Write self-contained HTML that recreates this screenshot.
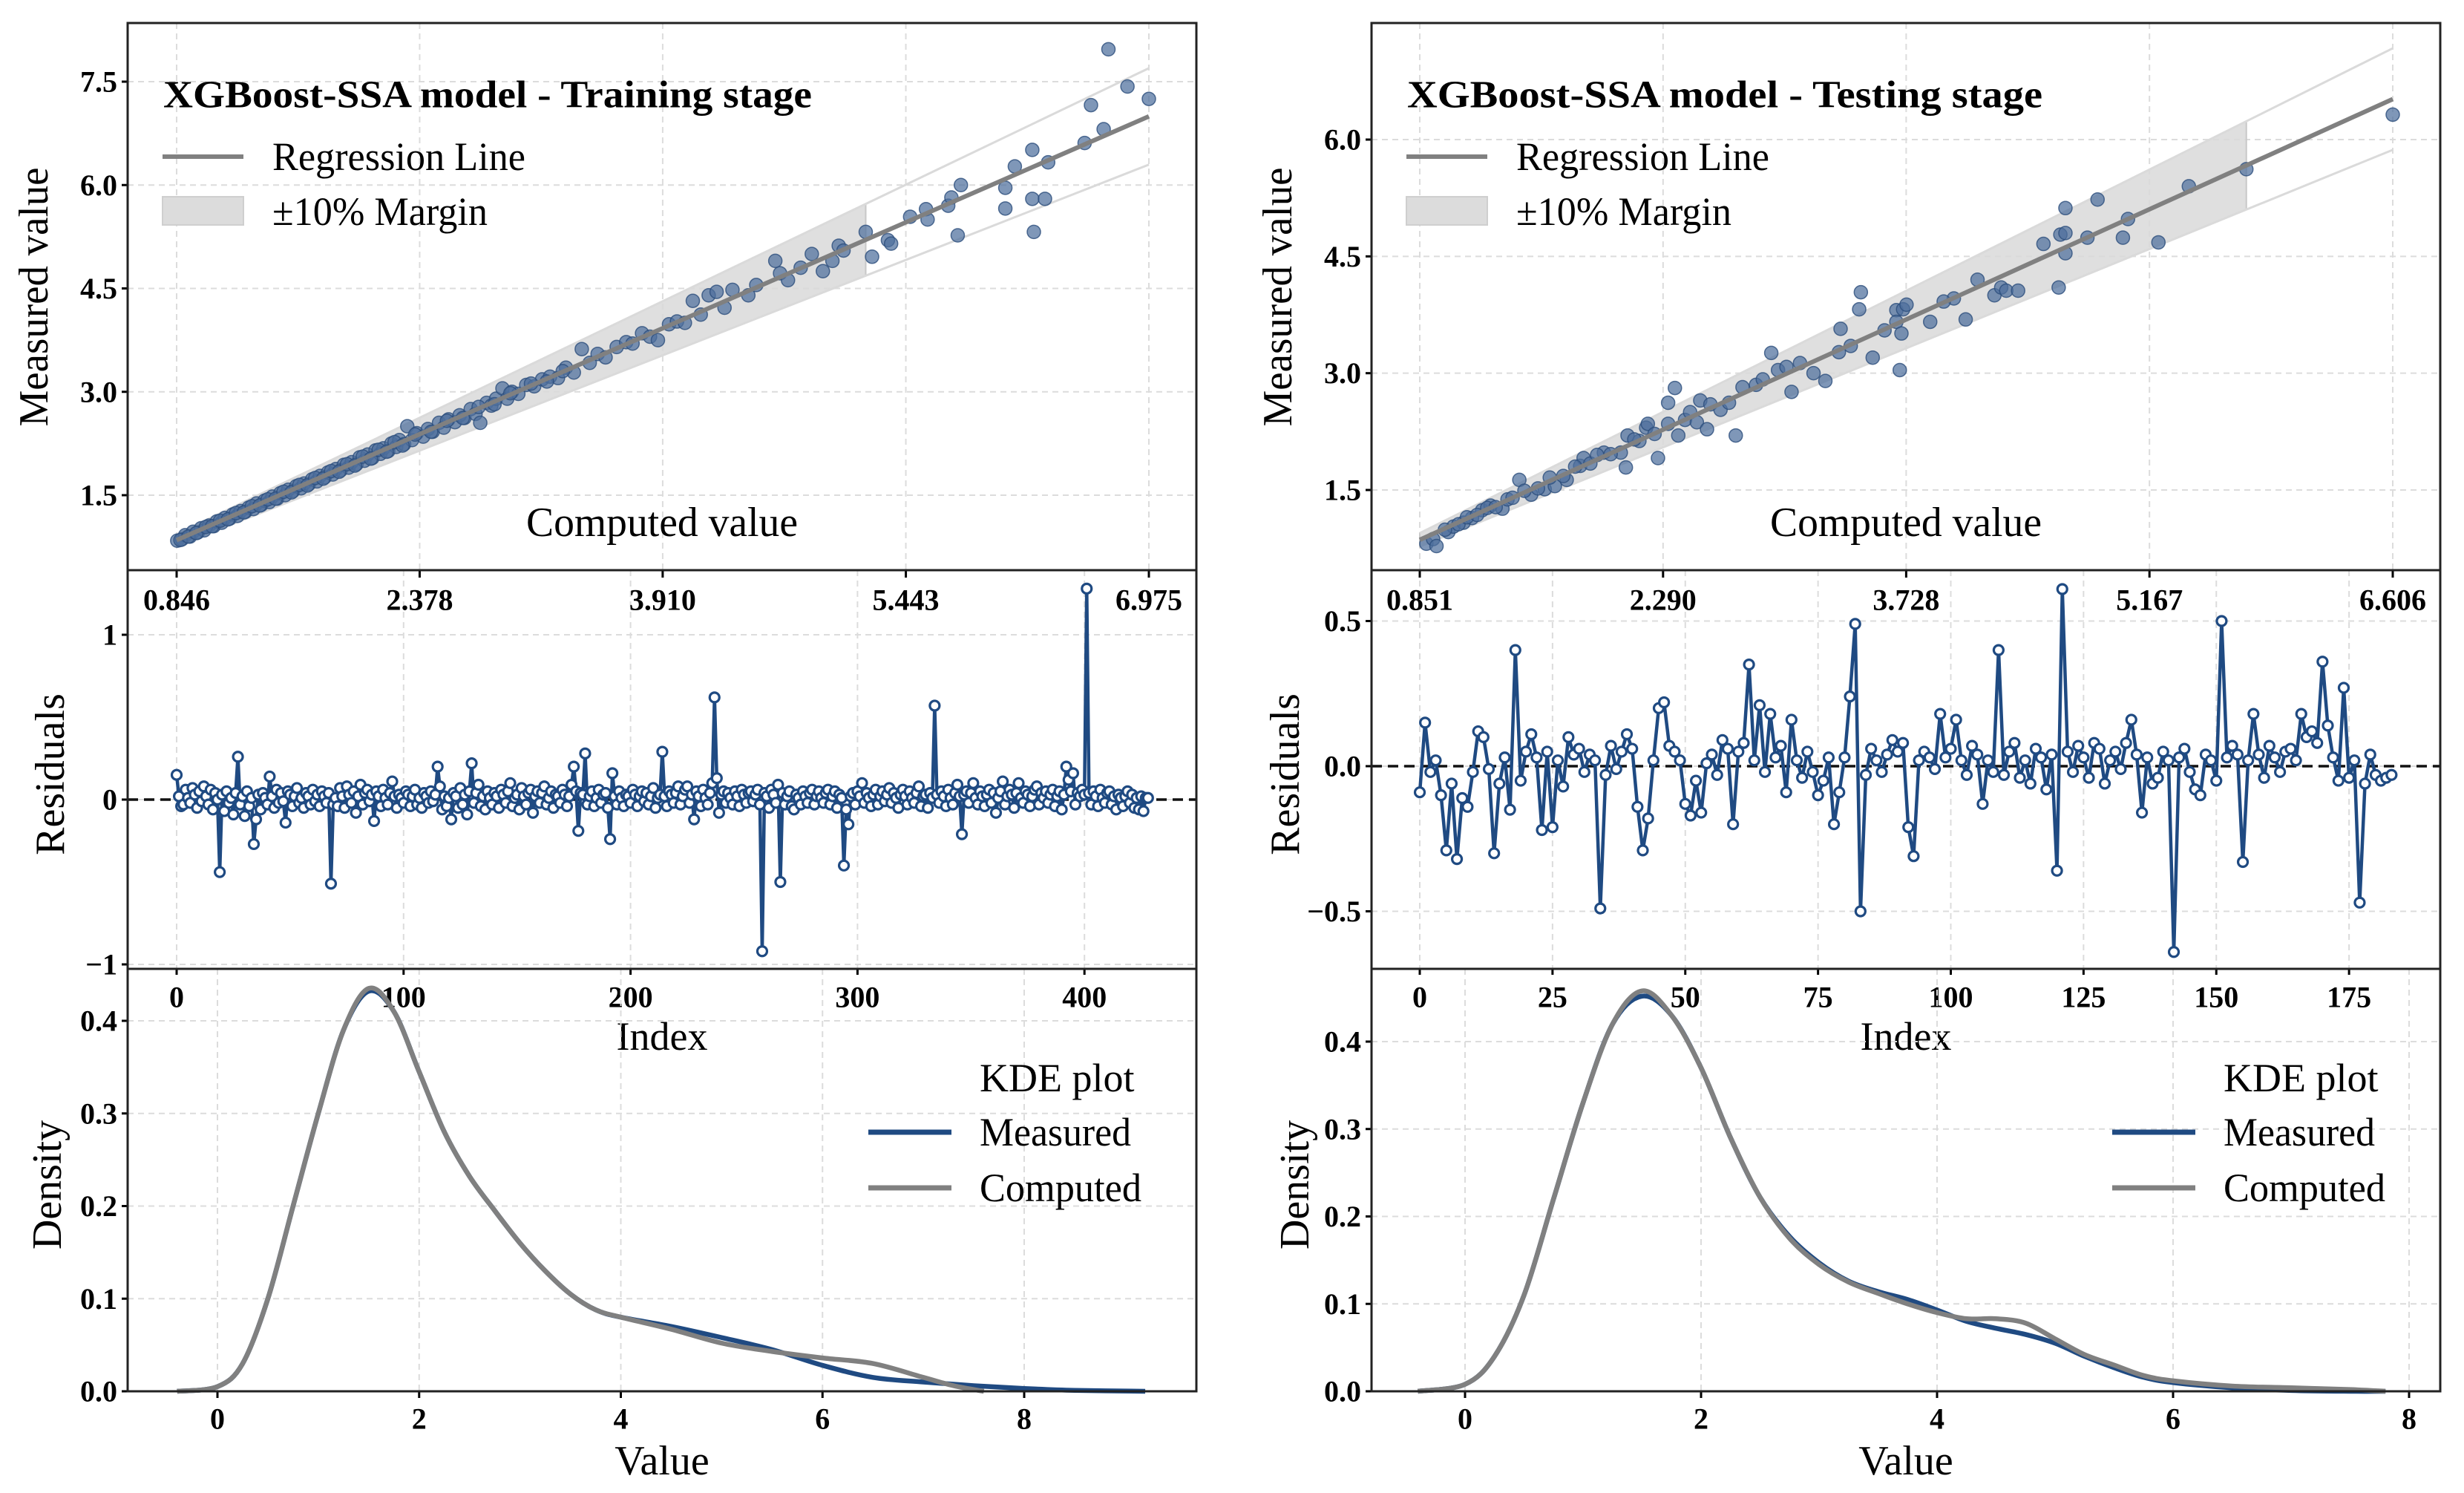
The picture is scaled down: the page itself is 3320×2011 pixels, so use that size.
<!DOCTYPE html>
<html><head><meta charset="utf-8"><title>XGBoost-SSA</title>
<style>html,body{margin:0;padding:0;background:#fff}svg{display:block}text{font-family:"Liberation Serif","DejaVu Serif",serif}</style>
</head><body>
<svg id="fig" xmlns="http://www.w3.org/2000/svg" width="3320" height="2011" viewBox="0 0 3320 2011"></svg>
<script>
// ---------- DATA ----------
const trainComputed=[0.85,0.88,0.90,0.93,0.95,0.98,1.00,1.02,1.05,1.08,1.10,1.13,1.15,1.18,1.20,1.23,1.25,1.28,1.30,1.33,1.35,1.38,1.40,1.43,1.45,1.48,1.50,1.53,1.55,1.58,1.60,1.63,1.65,1.68,1.70,1.73,1.75,1.78,1.80,1.83,1.85,1.88,1.90,1.93,1.95,1.98,2.00,2.03,2.05,2.08,2.10,2.13,2.15,2.18,2.20,2.23,2.25,2.28,2.30,2.33,2.36,2.40,2.43,2.46,2.50,2.53,2.56,2.60,2.63,2.66,2.70,2.73,2.76,2.80,2.83,2.86,2.90,2.93,2.96,3.00,3.05,3.10,3.15,3.20,3.25,3.30,3.35,3.40,3.45,3.50,3.55,3.62,3.68,3.72,3.78,3.83,3.88,3.95,4.00,4.05,4.10,4.15,4.20,4.25,4.30,4.35,4.45,4.50,4.62,4.65,4.70,4.78,4.85,4.92,4.98,5.02,5.05,5.19,5.23,5.33,5.35,5.47,5.57,5.58,5.71,5.73,5.77,5.79,6.07,6.07,6.13,6.24,6.24,6.25,6.32,6.34,6.57,6.61,6.69,6.72,6.84,6.975,0.87,0.92,0.97,1.03,1.07,1.12,1.17,1.22,1.27,1.32,1.37,1.42,1.47,1.52,1.57,1.62,1.67,1.72,1.77,1.82,1.87,1.92,1.97,2.02,2.07,2.12,2.17,2.22,2.27,2.35,2.45,2.55,2.65,2.75,2.85,2.95,3.08,3.18,3.28];
const trainMeasured=[0.84,0.86,0.92,0.90,0.97,0.96,1.02,0.99,1.06,1.05,1.12,1.10,1.17,1.16,1.22,1.20,1.27,1.26,1.32,1.30,1.38,1.36,1.42,1.40,1.48,1.45,1.53,1.50,1.58,1.56,1.63,1.60,1.67,1.66,1.73,1.70,1.78,1.76,1.83,1.80,1.88,1.86,1.94,1.90,1.98,1.95,2.05,2.00,2.09,2.04,2.15,2.10,2.18,2.14,2.25,2.20,2.30,2.24,2.50,2.30,2.40,2.35,2.46,2.42,2.55,2.48,2.60,2.56,2.66,2.62,2.75,2.68,2.55,2.84,2.80,2.90,3.05,2.90,3.00,2.97,3.10,3.08,3.18,3.22,3.20,3.35,3.28,3.62,3.42,3.55,3.50,3.65,3.72,3.70,3.85,3.80,3.75,3.98,4.02,4.00,4.32,4.12,4.40,4.45,4.22,4.48,4.40,4.55,4.90,4.72,4.62,4.80,5.00,4.75,4.90,5.12,5.05,5.32,4.96,5.20,5.15,5.54,5.65,5.50,5.70,5.82,5.27,6.00,5.96,5.66,6.27,6.51,5.80,5.32,5.80,6.33,6.61,7.16,6.81,7.97,7.43,7.25,0.85,0.90,0.95,1.04,1.05,1.13,1.15,1.24,1.25,1.34,1.35,1.44,1.45,1.55,1.54,1.65,1.64,1.75,1.74,1.85,1.84,1.95,1.93,2.06,2.03,2.16,2.13,2.27,2.22,2.38,2.42,2.58,2.62,2.78,2.82,2.98,3.12,3.15,3.30];
const trainReg=[1.003,0.0];
const trainTicksX=[0.846,2.378,3.910,5.443,6.975];
const trainTicksY=[1.5,3.0,4.5,6.0,7.5];

const testComputed=[0.89,0.93,0.95,1.02,1.05,1.11,1.16,1.22,1.27,1.34,1.37,1.44,1.51,1.59,1.65,1.72,1.80,1.82,1.94,2.04,2.07,2.08,2.15,2.19,2.20,2.26,2.32,2.32,2.36,2.38,2.42,2.49,2.51,2.55,2.57,2.63,2.72,2.76,2.84,2.93,2.97,3.02,3.05,3.18,3.25,3.33,3.34,3.45,3.46,3.53,3.67,3.67,3.69,3.70,3.71,3.73,3.87,4.01,4.08,4.25,4.29,4.32,4.39,4.54,4.63,4.64,4.67,4.67,4.67,4.80,4.86,5.01,5.04,5.22,5.40,5.74,6.606,1.00,1.08,1.13,1.19,1.25,1.30,1.40,1.47,1.55,1.62,1.70,1.77,1.86,1.90,1.98,2.12,2.24,2.45,2.68,2.88,3.10,3.40,3.60,3.95,4.15];
const testMeasured=[0.81,0.87,0.78,0.96,1.03,1.08,1.14,1.24,1.30,1.26,1.38,1.63,1.44,1.51,1.55,1.63,1.81,1.91,1.98,1.98,1.79,2.20,2.13,2.30,2.35,1.91,2.62,2.35,2.81,2.20,2.40,2.37,2.65,2.28,2.60,2.53,2.20,2.82,2.85,3.26,3.04,3.08,2.76,3.00,2.90,3.27,3.57,3.82,4.04,3.20,3.81,3.66,3.04,3.51,3.82,3.88,3.66,3.96,3.69,4.00,4.10,4.06,4.06,4.66,4.10,4.78,4.80,5.12,4.54,4.74,5.23,4.74,4.98,4.68,5.40,5.62,6.32,0.99,1.06,1.15,1.18,1.27,1.28,1.40,1.49,1.52,1.66,1.68,1.80,1.84,1.95,1.96,2.15,2.22,2.50,2.62,2.92,3.13,3.35,3.55,3.92,4.20];
const testReg=[0.9835,0.023];
const testTicksX=[0.851,2.290,3.728,5.167,6.606];
const testTicksY=[1.5,3.0,4.5,6.0];

const trainResiduals=[
0.15,0.02,-0.04,-0.03,0.06,0.01,-0.02,0.07,0.03,-0.05,0.05,-0.01,0.08,0.02,-0.03,0.06,-0.06,0.04,0.00,-0.44,
0.03,-0.07,0.05,-0.02,0.01,-0.09,0.04,0.26,-0.03,0.02,-0.10,0.05,-0.04,0.01,-0.27,-0.12,0.03,-0.06,0.04,0.01,
-0.03,0.14,0.02,-0.05,0.06,-0.02,0.04,-0.01,-0.14,0.05,0.03,-0.04,0.02,0.07,-0.02,0.01,-0.05,0.04,0.02,-0.03,
0.06,-0.01,0.03,-0.04,0.05,0.02,-0.02,0.04,-0.51,-0.03,0.01,-0.04,0.07,0.02,-0.05,0.08,0.03,-0.02,0.05,-0.08,
0.02,0.09,-0.03,0.04,0.06,-0.01,0.03,-0.13,0.05,0.02,-0.04,0.06,0.01,-0.03,0.04,0.11,0.02,-0.05,0.03,0.01,
-0.02,0.05,0.03,-0.04,0.02,0.06,-0.03,0.01,-0.05,0.04,0.02,-0.02,0.05,-0.01,0.03,0.20,0.08,-0.06,0.02,-0.04,
0.01,-0.12,0.04,0.02,-0.05,0.07,-0.03,0.03,-0.09,0.05,0.22,-0.02,0.04,0.09,-0.04,0.02,-0.06,0.05,0.01,-0.03,
0.04,0.02,-0.05,0.06,0.03,-0.02,0.05,0.10,-0.04,0.01,0.03,-0.06,0.07,0.02,-0.03,0.04,0.06,-0.08,0.02,0.05,
-0.02,0.04,0.08,-0.03,0.01,0.05,-0.05,0.03,0.02,-0.02,0.06,0.03,-0.04,0.02,0.09,0.20,0.05,-0.19,0.04,0.03,
0.28,-0.03,0.02,0.05,-0.04,0.01,0.06,-0.02,0.03,0.04,-0.05,-0.24,0.16,0.02,-0.03,0.05,0.01,-0.04,0.03,0.02,
-0.02,0.06,0.03,-0.04,0.02,0.05,-0.01,0.04,-0.03,0.02,0.07,-0.05,0.01,0.03,0.29,0.02,-0.04,0.05,0.03,-0.02,
0.04,0.08,-0.03,0.02,0.06,0.08,-0.02,0.03,-0.12,0.05,0.02,-0.04,0.06,0.01,-0.03,0.04,0.10,0.62,0.13,-0.08,
0.03,0.05,-0.02,0.04,0.01,-0.03,0.05,0.02,-0.04,0.06,0.03,-0.02,0.04,0.05,-0.01,0.03,0.06,-0.03,-0.92,0.04,
0.02,-0.05,0.06,0.03,-0.02,0.09,-0.50,0.04,-0.03,0.02,0.05,-0.04,-0.06,0.03,0.01,-0.03,0.05,0.02,-0.02,0.04,
0.06,-0.03,0.02,0.05,0.01,-0.02,0.04,0.06,-0.03,0.02,0.05,-0.05,0.03,0.01,-0.40,-0.06,-0.15,0.02,0.04,-0.03,
0.05,0.02,0.10,-0.02,0.04,0.01,-0.04,0.03,0.06,-0.03,0.02,0.05,-0.01,0.03,0.07,-0.02,0.04,0.01,-0.05,0.03,
0.06,0.02,-0.03,0.05,0.01,-0.02,0.04,0.08,-0.04,0.02,0.03,-0.05,0.04,0.01,0.57,0.03,-0.02,0.05,0.02,-0.04,
0.06,0.01,-0.03,0.04,0.09,0.02,-0.21,0.03,0.05,-0.02,0.04,0.10,0.01,-0.03,0.05,0.02,-0.04,0.03,0.06,-0.02,
0.04,-0.08,0.01,0.05,0.11,-0.03,0.02,0.06,0.03,-0.05,0.04,0.10,0.01,-0.02,0.05,0.03,-0.04,0.02,0.06,0.08,
-0.03,0.04,0.01,0.05,-0.02,0.03,0.06,-0.04,0.02,0.05,-0.06,0.03,0.20,0.12,0.05,0.16,-0.03,0.04,0.02,0.06,
0.03,1.28,0.04,-0.03,0.05,0.02,-0.04,0.06,0.01,-0.02,0.04,0.05,-0.03,0.02,-0.06,0.03,0.01,-0.04,0.02,0.05,
-0.02,0.03,-0.05,0.01,-0.06,0.02,-0.07,0.01,0.01];
const trainResTicksY=[-1,0,1];
const trainResTicksX=[0,100,200,300,400];

const testResiduals=[
-0.09,0.15,-0.02,0.02,-0.10,-0.29,-0.06,-0.32,-0.11,-0.14,-0.02,0.12,0.10,-0.01,-0.30,-0.06,0.03,-0.15,0.40,-0.05,
0.05,0.11,0.03,-0.22,0.05,-0.21,0.02,-0.07,0.10,0.04,0.06,-0.02,0.04,0.02,-0.49,-0.03,0.07,-0.01,0.05,0.11,
0.06,-0.14,-0.29,-0.18,0.02,0.20,0.22,0.07,0.05,0.02,-0.13,-0.17,-0.05,-0.16,0.01,0.04,-0.03,0.09,0.06,-0.20,
0.05,0.08,0.35,0.02,0.21,-0.02,0.18,0.03,0.07,-0.09,0.16,0.02,-0.04,0.05,-0.02,-0.10,-0.05,0.03,-0.20,-0.09,
0.03,0.24,0.49,-0.50,-0.03,0.06,0.02,-0.02,0.04,0.09,0.05,0.08,-0.21,-0.31,0.02,0.05,0.03,-0.01,0.18,0.03,
0.06,0.16,0.02,-0.03,0.07,0.04,-0.13,0.02,-0.02,0.40,-0.03,0.05,0.08,-0.04,0.02,-0.06,0.06,0.03,-0.08,0.04,
-0.36,0.61,0.05,-0.02,0.07,0.03,-0.04,0.08,0.06,-0.06,0.02,0.05,-0.01,0.08,0.16,0.04,-0.16,0.03,-0.06,-0.04,
0.05,0.02,-0.64,0.03,0.06,-0.02,-0.08,-0.10,0.04,0.02,-0.05,0.50,0.03,0.07,0.04,-0.33,0.02,0.18,0.04,-0.04,
0.07,0.03,-0.02,0.05,0.06,0.02,0.18,0.10,0.12,0.08,0.36,0.14,0.03,-0.05,0.27,-0.04,0.02,-0.47,-0.06,0.04,
-0.03,-0.05,-0.04,-0.03];
const testResTicksY=[-0.5,0.0,0.5];
const testResTicksX=[0,25,50,75,100,125,150,175];

const trainKdeX=[-0.4,0,0.25,0.5,0.75,1.0,1.25,1.5,1.75,2.0,2.25,2.5,2.75,3.0,3.25,3.5,3.75,4.0,4.5,5.0,5.5,6.0,6.5,7.0,7.5,8.0,8.5,9.2];
const trainKdeMeasured=[0,0.005,0.03,0.1,0.2,0.3,0.39,0.432,0.41,0.345,0.28,0.232,0.195,0.16,0.13,0.105,0.088,0.08,0.07,0.058,0.045,0.028,0.015,0.01,0.006,0.003,0.001,0];
const trainKdeComputedX=[-0.4,0,0.25,0.5,0.75,1.0,1.25,1.5,1.75,2.0,2.25,2.5,2.75,3.0,3.25,3.5,3.75,4.0,4.5,5.0,5.5,6.0,6.5,7.0,7.3,7.6];
const trainKdeComputed=[0,0.005,0.03,0.1,0.2,0.3,0.39,0.435,0.41,0.345,0.28,0.232,0.195,0.16,0.13,0.105,0.088,0.08,0.067,0.052,0.043,0.036,0.03,0.015,0.006,0];
const trainKdeTicksX=[0,2,4,6,8];
const kdeTicksY=[0.0,0.1,0.2,0.3,0.4];

const testKdeX=[-0.4,0,0.25,0.5,0.75,1.0,1.25,1.5,1.75,2.0,2.25,2.5,2.75,3.0,3.25,3.5,3.75,4.0,4.25,4.5,4.75,5.0,5.25,5.5,5.75,6.0,6.5,7.0,7.5,7.8];
const testKdeMeasured=[0,0.008,0.04,0.11,0.22,0.33,0.42,0.452,0.43,0.37,0.29,0.222,0.177,0.147,0.126,0.114,0.105,0.093,0.08,0.072,0.065,0.055,0.04,0.027,0.016,0.01,0.004,0.001,0,0];
const testKdeComputed=[0,0.008,0.04,0.11,0.22,0.33,0.42,0.458,0.43,0.37,0.29,0.222,0.175,0.145,0.125,0.112,0.1,0.09,0.083,0.083,0.078,0.06,0.042,0.03,0.018,0.012,0.006,0.004,0.002,0];
const testKdeTicksX=[0,2,4,6,8];

// ---------- DRAWING ----------
const NS="http://www.w3.org/2000/svg";
const svg=document.getElementById('fig');
function mk(tag,attrs,parent){const e=document.createElementNS(NS,tag);for(const k in attrs)e.setAttribute(k,attrs[k]);(parent||svg).appendChild(e);return e;}
function txt(s,x,y,size,opts,parent){opts=opts||{};const t=mk('text',{x:x,y:y,'font-size':size,'text-anchor':opts.anchor||'middle','dominant-baseline':'central',fill:'#000'},parent);if(opts.bold)t.setAttribute('font-weight','bold');if(opts.rot)t.setAttribute('transform','rotate(-90 '+x+' '+y+')');if(opts.len){t.setAttribute('textLength',opts.len);t.setAttribute('lengthAdjust','spacingAndGlyphs');}t.textContent=s;return t;}
function lin(a0,a1,p0,p1){return v=>p0+(v-a0)*(p1-p0)/(a1-a0);}
function grid(x1,y1,x2,y2,p){return mk('line',{x1:x1,y1:y1,x2:x2,y2:y2,stroke:'#dcdcdc','stroke-width':2,'stroke-dasharray':'8,6'},p);}
function smooth(pts){let d='M'+pts[0][0]+','+pts[0][1];for(let i=0;i<pts.length-1;i++){const p0=pts[Math.max(0,i-1)],p1=pts[i],p2=pts[i+1],p3=pts[Math.min(pts.length-1,i+2)];
  const c1=[p1[0]+(p2[0]-p0[0])/6,p1[1]+(p2[1]-p0[1])/6],c2=[p2[0]-(p3[0]-p1[0])/6,p2[1]-(p3[1]-p1[1])/6];
  d+=' C'+c1[0]+','+c1[1]+' '+c2[0]+','+c2[1]+' '+p2[0]+','+p2[1];}return d;}

function panel(P){
  const L=P.left,R=P.right;
  const grp=mk('g',{});
  
  
  // ----- scatter -----
  const sc=mk('g',{},grp);
  
  
  const sx=lin(P.sxA[0],P.sxA[1],P.sxP[0],P.sxP[1]);
  const sy=lin(P.syA[0],P.syA[1],P.syP[0],P.syP[1]);
  P.ticksX.forEach(v=>{grid(sx(v),31,sx(v),768,sc);});
  P.ticksY.forEach(v=>{grid(L,sy(v),R,sy(v),sc);
    const t=txt(v.toFixed(1),L-14,sy(v),40,{anchor:'end',bold:true},sc);
    
    
    mk('line',{x1:L-8,y1:sy(v),x2:L,y2:sy(v),stroke:'#000','stroke-width':3},sc);});
  const x0=P.ticksX[0],x1=P.ticksX[P.ticksX.length-1],a=P.reg[0],b=P.reg[1];
  const f=x=>a*x+b;
  const xb=P.bandEnd;
  const band=mk('polygon',{points:[[sx(x0),sy(1.1*f(x0))],[sx(xb),sy(1.1*f(xb))],[sx(xb),sy(0.9*f(xb))],[sx(x0),sy(0.9*f(x0))]].map(p=>p.join(',')).join(' '),fill:'#d9d9d9','fill-opacity':0.85,stroke:'#c8c8c8','stroke-width':2},sc);
  
  
  [1.1,0.9].forEach(k=>{const e=mk('line',{x1:sx(x0),y1:sy(k*f(x0)),x2:sx(x1),y2:sy(k*f(x1)),stroke:'#dadada','stroke-width':3},sc);
    
    });
  P.comp.forEach((c,i)=>{const d=mk('circle',{cx:sx(c),cy:sy(P.meas[i]),r:9,fill:'#4d6f9c','fill-opacity':0.72,stroke:'#2c4d7c','stroke-opacity':0.8,'stroke-width':1.5},sc);
    
    });
  const rl=mk('line',{x1:sx(x0),y1:sy(f(x0)),x2:sx(x1),y2:sy(f(x1)),stroke:'#808080','stroke-width':6},sc);
  
  
  const ti=txt(P.title,L+48,128,52,{anchor:'start',bold:true,len:P.titleLen},sc);
  
  
  const lg=mk('g',{},sc);
  
  
  mk('line',{x1:L+47,y1:211,x2:L+156,y2:211,stroke:'#808080','stroke-width':6},lg);
  txt('Regression Line',L+195,211,54,{anchor:'start',len:341},lg);
  mk('rect',{x:L+47,y:265,width:109,height:38,fill:'#dcdcdc',stroke:'#cfcfcf','stroke-width':2},lg);
  txt('±10% Margin',L+195,285,54,{anchor:'start',len:290},lg);
  const xl=txt('Computed value',P.compLabelX,704,56,{len:366},sc);
  
  
  const yl=txt('Measured value',P.yLabX,400,56,{rot:true,len:349},sc);
  
  
  // ----- residuals -----
  const rs=mk('g',{},grp);
  
  
  const rx=lin(0,1,P.rx0,P.rx0+P.rxStep);
  const ry=lin(0,P.ryUnit,P.ry0,P.ry0-P.ryPx);
  P.resTicksX.forEach(v=>{grid(rx(v),768,rx(v),1305,rs);});
  P.resTicksY.forEach(v=>{grid(L,ry(v),R,ry(v),rs);
    const t=txt(P.resFmt(v),L-14,ry(v),40,{anchor:'end',bold:true},rs);
    
    
    mk('line',{x1:L-8,y1:ry(v),x2:L,y2:ry(v),stroke:'#000','stroke-width':3},rs);});
  P.ticksX.forEach(v=>{mk('line',{x1:sx(v),y1:768,x2:sx(v),y2:778,stroke:'#000','stroke-width':3},rs);
    const t=txt(v.toFixed(3),sx(v),808,40,{bold:true},rs);
    
    });
  const zl=mk('line',{x1:L,y1:ry(0),x2:R,y2:ry(0),stroke:'#111','stroke-width':3.5,'stroke-dasharray':'14,8'},rs);
  
  
  const pl=mk('polyline',{points:P.res.map((r,i)=>rx(i)+','+ry(r)).join(' '),fill:'none',stroke:'#1f4a82','stroke-width':4.5,'stroke-linejoin':'round'},rs);
  
  
  P.res.forEach((r,i)=>{const c=mk('circle',{cx:rx(i),cy:ry(r),r:6.5,fill:'#fff',stroke:'#1f4a82','stroke-width':3.2},rs);
    
    });
  P.resTicksX.forEach(v=>{const t=txt(String(v),rx(v),1343,40,{bold:true},rs);
    
    
    mk('line',{x1:rx(v),y1:1305,x2:rx(v),y2:1313,stroke:'#000','stroke-width':3},rs);});
  const il=txt('Index',P.compLabelX,1396,54,{},rs);
  
  
  const rl2=txt('Residuals',P.resLabX,1043,56,{rot:true},rs);
  
  
  // ----- KDE -----
  const kd=mk('g',{},grp);
  
  
  const kx=lin(0,8,P.kx0,P.kx8);
  const ky=lin(0,0.4,1874,P.ky04);
  P.kdeTicksX.forEach(v=>{grid(kx(v),1305,kx(v),1874,kd);
    mk('line',{x1:kx(v),y1:1874,x2:kx(v),y2:1883,stroke:'#000','stroke-width':3},kd);
    const t=txt(String(v),kx(v),1911,40,{bold:true},kd);
    
    });
  kdeTicksY.forEach(v=>{if(v>0)grid(L,ky(v),R,ky(v),kd);
    mk('line',{x1:L-8,y1:ky(v),x2:L,y2:ky(v),stroke:'#000','stroke-width':3},kd);
    const t=txt(v.toFixed(1),L-14,ky(v),40,{anchor:'end',bold:true},kd);
    
    });
  const km=mk('path',{d:smooth(P.kdeX.map((x,i)=>[kx(x),ky(P.kdeM[i])])),fill:'none',stroke:'#1f4a82','stroke-width':6.5,'stroke-linejoin':'round'},kd);
  
  
  const kc=mk('path',{d:smooth(P.kdeCX.map((x,i)=>[kx(x),ky(P.kdeC[i])])),fill:'none',stroke:'#808080','stroke-width':6.5,'stroke-linejoin':'round'},kd);
  
  
  const kl=mk('g',{},kd);
  
  
  txt('KDE plot',P.kLegX+150,1452,54,{anchor:'start'},kl);
  mk('line',{x1:P.kLegX,y1:1525,x2:P.kLegX+112,y2:1525,stroke:'#1f4a82','stroke-width':7},kl);
  txt('Measured',P.kLegX+150,1525,54,{anchor:'start',len:204},kl);
  mk('line',{x1:P.kLegX,y1:1600,x2:P.kLegX+112,y2:1600,stroke:'#808080','stroke-width':7},kl);
  txt('Computed',P.kLegX+150,1600,54,{anchor:'start',len:218},kl);
  const vl=txt('Value',P.compLabelX,1968,56,{},kd);
  
  
  const dl=txt('Density',P.denLabX,1596,56,{rot:true},kd);
  
  
  [[31,768],[768,1305],[1305,1874]].forEach(([t,bm])=>{const fr=mk('rect',{x:L,y:t,width:R-L,height:bm-t,fill:'none',stroke:'#222','stroke-width':3},grp);
    
    });
}

panel({name:'training-panel',left:172,right:1612,sxA:[0.846,6.975],sxP:[238,1548],syA:[1.5,7.5],syP:[667,110],
  ticksX:trainTicksX,ticksY:trainTicksY,comp:trainComputed,meas:trainMeasured,reg:trainReg,bandEnd:5.19,
  title:'XGBoost-SSA model - Training stage',titleLen:874,compLabelX:892,yLabX:46,
  rx0:238,rxStep:3.058,ry0:1077,ryUnit:1,ryPx:222,res:trainResiduals,resTicksX:trainResTicksX,resTicksY:trainResTicksY,
  resFmt:v=>v<0?'\u22121':String(v),resLabX:68,
  kx0:293,kx8:1380,ky04:1375,kdeTicksX:trainKdeTicksX,kdeX:trainKdeX,kdeM:trainKdeMeasured,kdeCX:trainKdeComputedX,kdeC:trainKdeComputed,
  kLegX:1170,denLabX:64});
panel({name:'testing-panel',left:1848,right:3288,sxA:[0.851,6.606],sxP:[1913,3224],syA:[1.5,6.0],syP:[660,188],
  ticksX:testTicksX,ticksY:testTicksY,comp:testComputed,meas:testMeasured,reg:testReg,bandEnd:5.74,
  title:'XGBoost-SSA model - Testing stage',titleLen:856,compLabelX:2568,yLabX:1722,
  rx0:1913,rxStep:7.155,ry0:1032,ryUnit:0.5,ryPx:195.5,res:testResiduals,resTicksX:testResTicksX,resTicksY:testResTicksY,
  resFmt:v=>v<0?'\u2212'+Math.abs(v).toFixed(1):v.toFixed(1),resLabX:1732,
  kx0:1974,kx8:3246,ky04:1403,kdeTicksX:testKdeTicksX,kdeX:testKdeX,kdeM:testKdeMeasured,kdeCX:testKdeX,kdeC:testKdeComputed,
  kLegX:2846,denLabX:1745});
</script>
</body></html>
